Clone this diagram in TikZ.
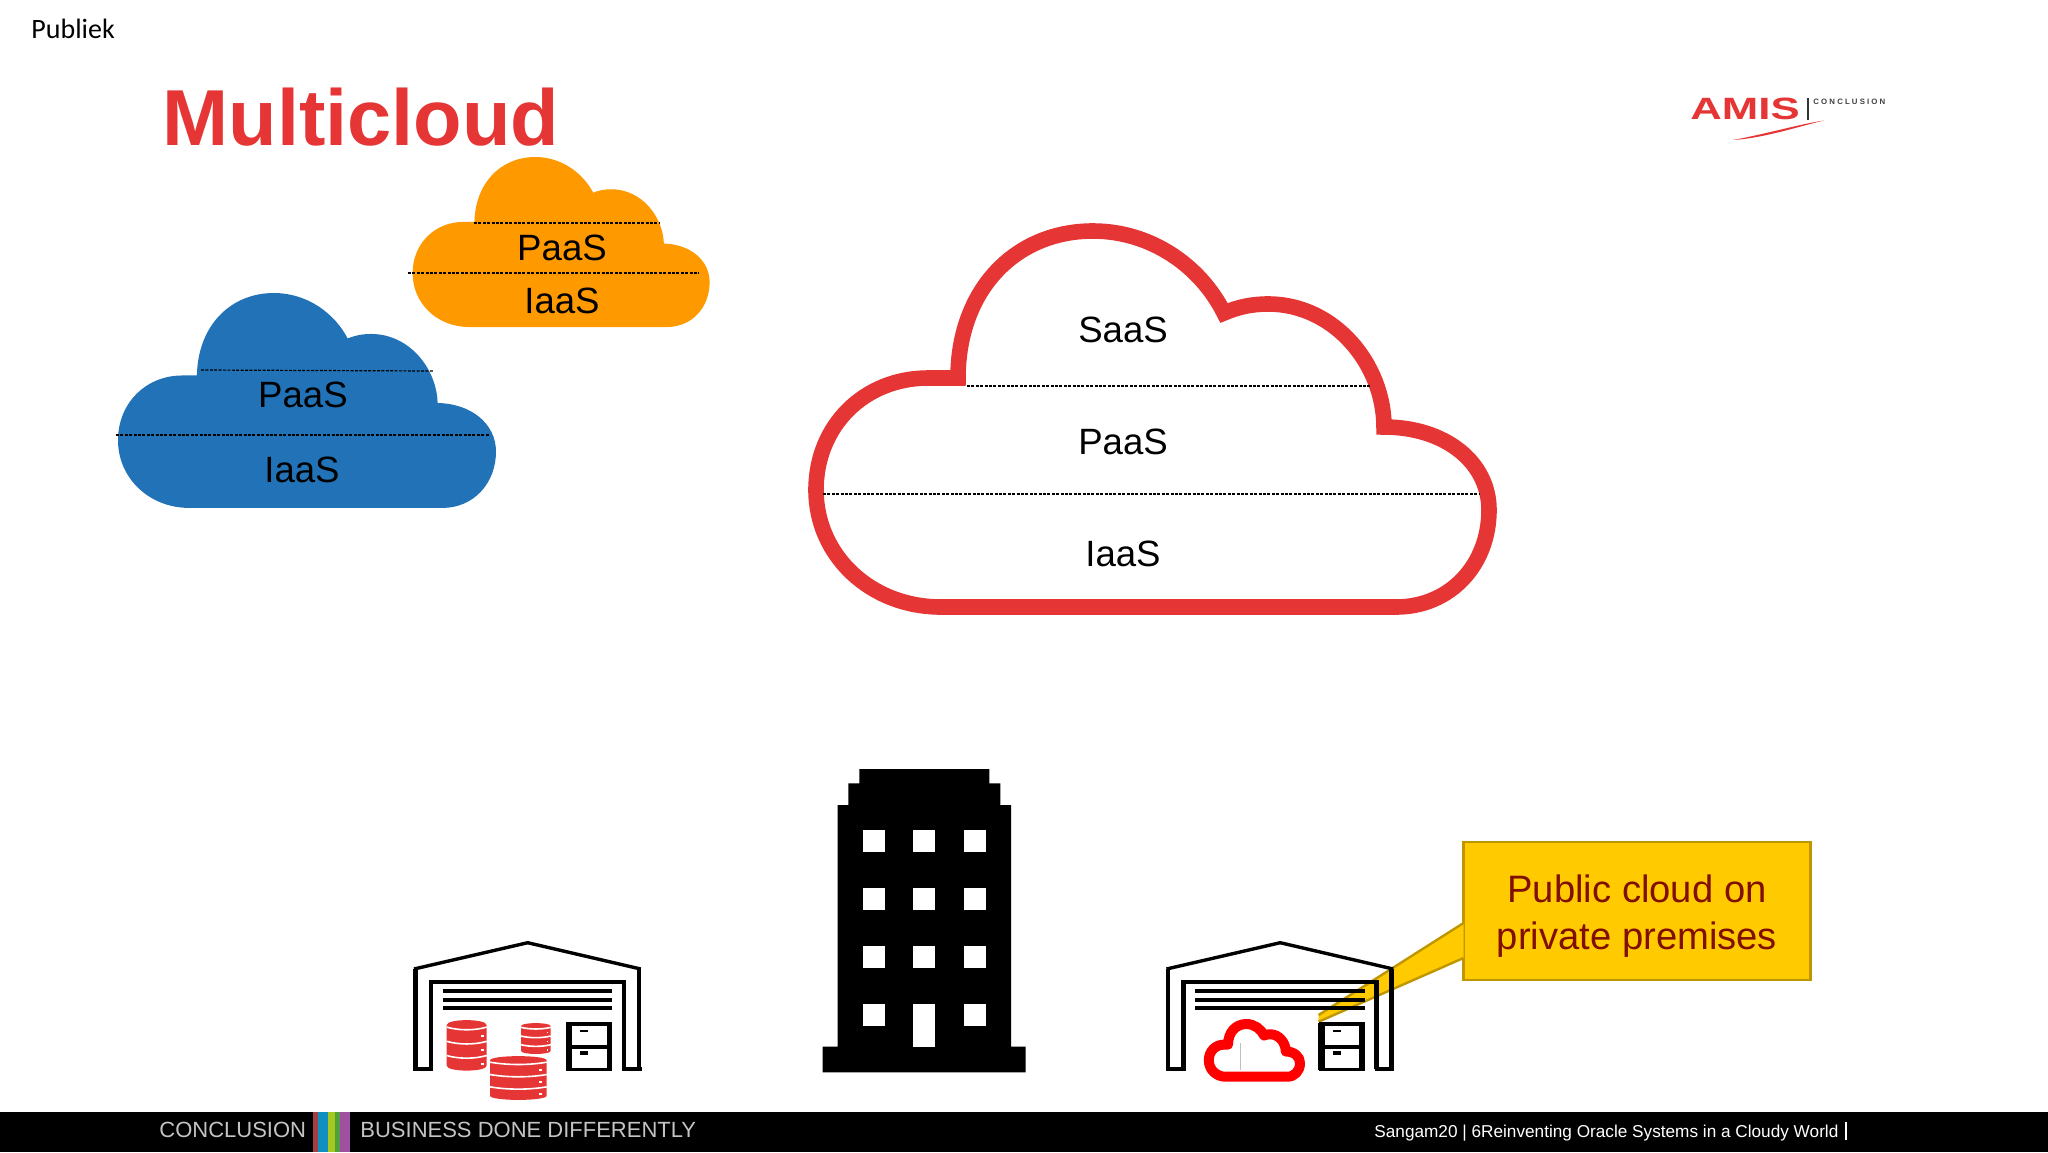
\documentclass[tikz,border=0pt]{standalone}
\usepackage{fontspec}
\setmainfont{Liberation Sans}
\newfontfamily\calibrifont{Carlito}
\usetikzlibrary{positioning}
\definecolor{amisred}{HTML}{E53535}
\definecolor{azureblue}{HTML}{2272B7}
\definecolor{awsorange}{HTML}{FF9900}
\definecolor{notefill}{HTML}{FFCB00}
\definecolor{noteline}{HTML}{BF9600}
\definecolor{notetext}{HTML}{800F00}
\definecolor{footergrey}{HTML}{C4C4C4}
\definecolor{stripered}{HTML}{A04040}
\definecolor{stripeblue}{HTML}{1090C0}
\definecolor{stripeyellow}{HTML}{A8C820}
\definecolor{stripegreen}{HTML}{50A040}
\definecolor{stripepurple}{HTML}{A050A0}
\tikzset{
  layerlabel/.style={font=\fontsize{18.3}{22}\selectfont},
  layerline/.style={line width=0.6pt, dash pattern=on 1.5pt off 0.7pt},
  wall/.style={line width=2.4pt, line join=miter},
  thinwall/.style={line width=1.7pt},
  slat/.style={line width=2.1pt},
}
% one cloud, 673 wide and 376 high
\newcommand{\cloudpath}{(125,376) -- (580,376)
  .. controls (634,376) and (673,334) .. (673,279)
  .. controls (673,231) and (629,196) .. (568,196)
  .. controls (568,134) and (519,73) .. (452,73)
  .. controls (436,73) and (422,76) .. (408,82)
  .. controls (384,34) and (334,0) .. (277,0)
  .. controls (199,0) and (142,59) .. (142,147)
  .. controls (132,147) and (122,147) .. (112,147)
  .. controls (49,147) and (0,194) .. (0,259)
  .. controls (0,324) and (54,376) .. (125,376) -- cycle}
\newcommand{\warehouse}[1]{
  \begin{scope}[xshift=#1*0.5pt]
    \draw[wall] (415.5,1069) -- (415.5,969);
    \draw[wall] (639,1069) -- (639,969);
    \draw[thinwall] (414,969) -- (527.7,942.7) -- (640.7,969);
    \draw[thinwall] (413,1069) -- (433,1069);
    \draw[thinwall] (622,1069) -- (641.5,1069);
    \draw[wall] (431,1069) -- (431,982) -- (624,982) -- (624,1069);
    \foreach \yy in {991,1000,1008}
      \draw[slat] (442.7,\yy) -- (612.3,\yy);
    \draw[line width=3.4pt] (569,1023) -- (569,1070);
    \draw[line width=2.6pt] (609.5,1023) -- (609.5,1070);
    \draw[line width=1.6pt] (566,1024) -- (612,1024);
    \draw[line width=1.6pt] (566,1047) -- (612,1047);
    \draw[line width=1.4pt] (566,1069.5) -- (612,1069.5);
    \fill (580,1029.5) rectangle (588,1031.5);
    \fill (580,1051) rectangle (588,1055);
  \end{scope}
}
\newcommand{\dbstack}[4]{
  \begin{scope}[shift={(#1,#2)},xscale=#3,yscale=#4]
    \fill[amisred] (0,.1) .. controls (0,-.03) and (1,-.03) .. (1,.1)
      -- (1,.9) .. controls (1,1.03) and (0,1.03) .. (0,.9) -- cycle;
    \foreach \yy in {.14,.42,.7} {
      \draw[white, line width=0.8pt] (0,\yy) .. controls (.3,\yy+.07) and (.7,\yy+.07) .. (1,\yy);
      \fill[white] (.86,\yy+.15) rectangle (.92,\yy+.19);
    }
  \end{scope}
}
\begin{document}
\begin{tikzpicture}[x=0.5pt,y=-0.5pt]
  \useasboundingbox (0,0) rectangle (2048,1152);
  \node[anchor=base west, inner sep=0pt, font=\calibrifont\fontsize{14}{17}\selectfont] (publiek) at (31,38) {Publiek};
  \node[anchor=base west, inner sep=0pt, text=amisred, font=\bfseries\fontsize{39.7}{48}\selectfont] (title) at (162,145) {Multicloud};
  % logo
  \node[inner sep=0pt, text=amisred, xscale=1.42, font=\bfseries\fontsize{15.4}{18}\selectfont] (amis) at (1745,109) {AMIS};
  \draw[line width=0.6pt, black!80] (1808,98) -- (1808,120);
  \node[anchor=west, inner sep=0pt, text=black!75, font=\bfseries\fontsize{3.9}{4}\selectfont] (conclusionlogo) at (1813,102) {C O N C L U S I O N};
  \fill[amisred] (1733,140) .. controls (1770,133) and (1800,124) .. (1824,120.5)
    .. controls (1800,126) and (1765,138) .. cycle;
  % small clouds
  \begin{scope}[shift={(120,295)},xscale=0.5557,yscale=0.561]
    \filldraw[azureblue, line width=2pt, line join=miter] \cloudpath;
  \end{scope}
  \begin{scope}[shift={(414.6,159)},xscale=0.4354,yscale=0.4415]
    \filldraw[awsorange, line width=2pt, line join=miter] \cloudpath;
  \end{scope}
  \draw[layerline] (201,370) -- (433,371);
  \draw[layerline] (116,435) -- (490,435);
  \draw[layerline] (474,223) -- (659,223);
  \draw[layerline] (408,273) -- (699,273);
  \node[layerlabel] (bluepaas) at (303,395) {PaaS};
  \node[layerlabel] (blueiaas) at (302,470) {IaaS};
  \node[layerlabel] (orangepaas) at (562,248) {PaaS};
  \node[layerlabel] (orangeiaas) at (562,301) {IaaS};
  % big cloud
  \begin{scope}[shift={(816,231)}]
    \draw[amisred, line width=7.8pt, line join=miter] \cloudpath;
  \end{scope}
  \draw[layerline] (967,386) -- (1371,386);
  \draw[layerline] (823,494) -- (1479,494);
  \node[layerlabel] (saas) at (1123,330) {SaaS};
  \node[layerlabel] (paas) at (1123,442) {PaaS};
  \node[layerlabel] (iaas) at (1123,554) {IaaS};
  % building
  \fill (859.3,769) -- (989.3,769) -- (989.3,783.3) -- (1000.3,783.3) -- (1000.3,805)
    -- (1011,805) -- (1011,1046.7) -- (1025.7,1046.7) -- (1025.7,1072.3)
    -- (822.7,1072.3) -- (822.7,1046.7) -- (837.7,1046.7) -- (837.7,805)
    -- (848.3,805) -- (848.3,783.3) -- (859.3,783.3) -- cycle;
  \foreach \yy in {830.3,888.3,946,1004}
    \foreach \xx in {863,912.7,963.7}
      \fill[white] (\xx,\yy) rectangle +(22,22);
  \fill[white] (912.7,1004) rectangle (934.7,1046.7);
  % callout
  \node[minimum width=347*0.5pt, minimum height=138*0.5pt, inner sep=0pt, draw=noteline, fill=notefill, line width=1.2pt,
    text=notetext, align=center, font=\fontsize{19.1}{23.5}\selectfont] (note) at (1637,911.2) {\rule{0pt}{19pt}Public cloud on\\private premises};
  \coordinate (tailtip) at (1318.6,1021.7);
  \coordinate (tailtop) at (1463.5,923);
  \coordinate (tailbottom) at (1463.5,958);
  \fill[notefill] (tailtop) -- (1318.6,1015) -- (tailtip) -- (tailbottom) -- cycle;
  \draw[noteline, line width=1.2pt] (tailtop) -- (1318.6,1015);
  \draw[noteline, line width=1.2pt] (tailbottom) -- (tailtip);
  % warehouses
  \warehouse{0}
  \dbstack{446.7}{1020}{40}{50.7}
  \dbstack{521}{1023}{29.7}{31}
  \dbstack{490}{1056}{56.7}{44}
  \warehouse{752.5}
  \begin{scope}[shift={(1208.8,1024)},xscale=0.1355,yscale=0.1402]
    \draw[red, line width=5pt, line join=round] \cloudpath;
  \end{scope}
  \draw[black!25, line width=0.3pt] (1240.4,1043) -- (1240.4,1070);
  % footer
  \fill[black] (0,1112) rectangle (2048,1152);
  \node[anchor=base west, inner sep=0pt, text=footergrey, font=\fontsize{11}{13}\selectfont] (conclusion) at (159,1137) {CONCLUSION};
  \node[anchor=base west, inner sep=0pt, text=footergrey, font=\fontsize{11}{13}\selectfont] (business) at (360,1137) {BUSINESS DONE DIFFERENTLY};
  \fill[stripered] (313,1112) rectangle (318,1152);
  \fill[stripeblue] (318,1112) rectangle (328,1152);
  \fill[stripeyellow] (328,1112) rectangle (335,1152);
  \fill[stripegreen] (335,1112) rectangle (340,1152);
  \fill[stripepurple] (340,1112) rectangle (350,1152);
  \node[anchor=base west, inner sep=0pt, text=white, font=\fontsize{8.6}{12}\selectfont] (sangam) at (1374,1137.5) {Sangam20 | 6Reinventing Oracle Systems in a Cloudy World};
  \draw[white, line width=0.9pt] (1846,1122) -- (1846,1140);
\end{tikzpicture}
\end{document}
